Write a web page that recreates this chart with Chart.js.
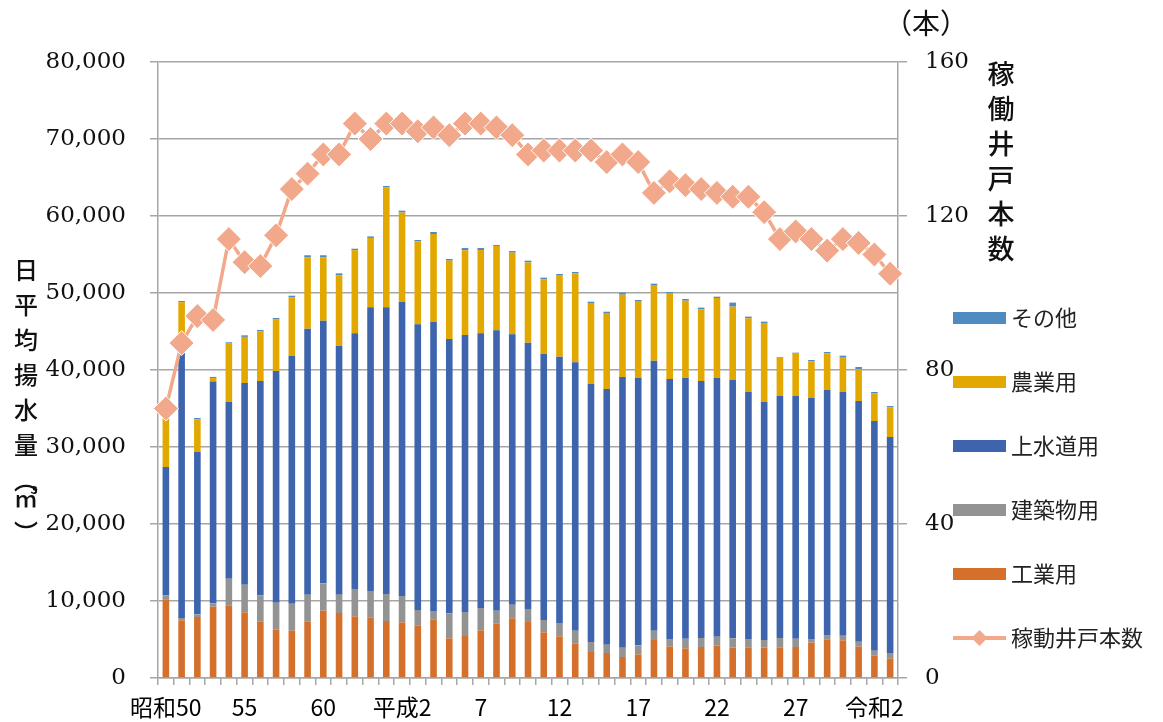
<!DOCTYPE html>
<html>
<head>
<meta charset="utf-8">
<script src="https://cdn.jsdelivr.net/npm/chart.js@4.4.1/dist/chart.umd.min.js"></script>
<style>
  body { margin: 0; background: #fff; }
</style>
</head>
<body>
<canvas id="chart" width="1163" height="722"></canvas>
<script>
// 年度 (昭和50〜令和3)
const years = [
  '昭和50','昭和51','昭和52','昭和53','昭和54','昭和55','昭和56','昭和57','昭和58','昭和59',
  '昭和60','昭和61','昭和62','昭和63','平成元','平成2','平成3','平成4','平成5','平成6',
  '平成7','平成8','平成9','平成10','平成11','平成12','平成13','平成14','平成15','平成16',
  '平成17','平成18','平成19','平成20','平成21','平成22','平成23','平成24','平成25','平成26',
  '平成27','平成28','平成29','平成30','令和元','令和2','令和3'
];
// 5年おきに表示する目盛ラベル
const tickLabels = ['昭和50','55','60','平成2','7','12','17','22','27','令和2'];

// 日平均揚水量 (m3)
const industry = [10220,7490,7920,9260,9440,8530,7360,6320,6140,7360,8740,8440,8010,7880,7400,7230,6840,7620,5150,5450,6190,7100,7750,7270,5930,5410,4500,3380,3250,2730,3070,4940,4070,3850,4030,4200,3940,3980,3940,3980,4030,4590,5020,4890,4070,2940,2550];
const building = [480,300,350,440,3460,3590,3340,3460,3510,3460,3550,2380,3550,3420,3510,3420,1990,1080,3250,3120,2900,1640,1770,1690,1600,1730,1640,1300,1080,1210,1170,1200,990,1260,1160,1170,1210,1080,1000,1210,1080,470,560,610,650,610,700];
const water = [16700,34610,21080,28800,22940,26180,27870,30090,32210,34550,34110,32340,33200,36840,37230,38220,37100,37530,35630,35980,35670,36410,35110,34590,34590,34590,34860,33500,33200,35150,34720,35070,33770,33850,33380,33590,33550,32080,30900,31430,31510,31300,31820,31640,31250,29830,28050];
const agri = [7000,6400,4250,450,7660,6000,6430,6680,7590,9280,8250,9140,10790,9010,15560,11580,10770,11430,10170,10990,10820,10950,10610,10420,9660,10520,11550,10520,9780,10690,9910,9830,11170,10040,9310,10390,9530,9570,10260,4980,5500,4770,4760,4550,4160,3570,3850];
const other = [200,160,170,150,100,200,200,200,200,250,250,250,200,200,200,240,180,260,220,300,260,130,210,230,210,220,180,170,260,260,220,170,130,220,220,170,520,220,180,90,130,170,180,170,260,190,170];

// 稼働井戸本数 (本)
const wells = [70,87,94,93,114,108,107,115,127,131,136,136,144,140,144,144,142,143,141,144,144,143,141,136,137,137,137,137,134,136,134,126,129,128,127,126,125,125,121,114,116,114,111,114,113,110,105];

const gridColor = '#A6A6A6';
const jpFont = "'Noto Sans CJK JP', 'Noto Sans', sans-serif";
const numFont = "'DejaVu Serif', 'Liberation Serif', serif";

const leftTitle = ['日','平','均','揚','水','量','︵','㎥','︶'];
const rightTitle = ['稼','働','井','戸','本','数'];

// 縦書きタイトルと凡例
const extras = {
  id: 'extras',
  afterDraw(chart) {
    const c = chart.ctx;
    c.save();
    c.fillStyle = '#111';
    c.textAlign = 'center';
    c.textBaseline = 'middle';

    c.font = '500 24px ' + jpFont;
    let y = 270;
    leftTitle.forEach(ch => {
      const step = (ch === '︵' || ch === '︶') ? 18 : 35;
      c.fillText(ch, 26, y);
      y += step;
    });

    c.font = '500 27px ' + jpFont;
    rightTitle.forEach((ch, i) => c.fillText(ch, 1001, 74 + i * 35));

    c.font = '28px ' + jpFont;
    c.fillText('（本）', 926, 23);

    // 凡例
    const sets = chart.data.datasets;
    const bars = sets.filter(d => d.type !== 'line').reverse();
    const line = sets.find(d => d.type === 'line');
    c.textAlign = 'left';
    c.font = '22px ' + jpFont;
    let ly = 318;
    bars.forEach(d => {
      c.fillStyle = d.backgroundColor;
      c.fillRect(953, ly - 6, 53, 12);
      c.fillStyle = '#222';
      c.fillText(d.label, 1011, ly);
      ly += 64;
    });
    c.strokeStyle = line.borderColor;
    c.lineWidth = 4;
    c.beginPath();
    c.moveTo(953, ly);
    c.lineTo(1006, ly);
    c.stroke();
    c.fillStyle = line.borderColor;
    c.beginPath();
    c.moveTo(979.5 - 8, ly);
    c.lineTo(979.5, ly - 8);
    c.lineTo(979.5 + 8, ly);
    c.lineTo(979.5, ly + 8);
    c.closePath();
    c.fill();
    c.fillStyle = '#222';
    c.fillText(line.label, 1011, ly);
    c.restore();
  }
};

const barBase = { type: 'bar', yAxisID: 'y', order: 1, barPercentage: 0.42, categoryPercentage: 1 };

new Chart(document.getElementById('chart'), {
  type: 'bar',
  data: {
    labels: years,
    datasets: [
      {
        type: 'line', label: '稼動井戸本数', data: wells, yAxisID: 'y1', order: 0,
        borderColor: '#F2A88A', backgroundColor: '#F2A88A', borderWidth: 3.5,
        pointStyle: 'rectRot', pointRadius: 12.5, pointBackgroundColor: '#F2A88A',
        pointBorderColor: '#ffffff', pointBorderWidth: 1, tension: 0, clip: false
      },
      { ...barBase, label: '工業用', data: industry, backgroundColor: '#D4702C' },
      { ...barBase, label: '建築物用', data: building, backgroundColor: '#939393' },
      { ...barBase, label: '上水道用', data: water, backgroundColor: '#3D64AD' },
      { ...barBase, label: '農業用', data: agri, backgroundColor: '#E3A800' },
      { ...barBase, label: 'その他', data: other, backgroundColor: '#4F8BC1' }
    ]
  },
  options: {
    responsive: false,
    animation: false,
    layout: { padding: { top: 62, right: 165, bottom: 0, left: 0 } },
    plugins: { legend: { display: false }, tooltip: { enabled: false } },
    scales: {
      x: {
        stacked: true,
        grid: { offset: true, drawOnChartArea: false, tickLength: 7, color: gridColor, lineWidth: 1.5 },
        border: { color: gridColor, width: 1.5 },
        ticks: {
          autoSkip: false, maxRotation: 0, padding: 8, color: '#000',
          font: { family: jpFont, size: 23 },
          callback: (v, i) => i % 5 === 0 ? tickLabels[i / 5] : ''
        },
        afterFit: s => { s.height = 44; }
      },
      y: {
        stacked: true, position: 'left', min: 0, max: 80000,
        grid: { color: gridColor, lineWidth: 1.5, tickLength: 8 },
        border: { color: gridColor, width: 1.5 },
        ticks: {
          stepSize: 10000, padding: 24, color: '#111',
          font: { family: numFont, size: 23 },
          callback: v => v.toLocaleString('en-US')
        },
        afterFit: s => { s.width = 158; }
      },
      y1: {
        position: 'right', min: 0, max: 160,
        grid: { drawOnChartArea: false, color: gridColor, lineWidth: 1.5, tickLength: 9 },
        border: { color: gridColor, width: 1.5 },
        ticks: { stepSize: 40, padding: 18, color: '#111', font: { family: numFont, size: 23 } },
        afterFit: s => { s.width = 100; }
      }
    }
  },
  plugins: [extras]
});
</script>
</body>
</html>
